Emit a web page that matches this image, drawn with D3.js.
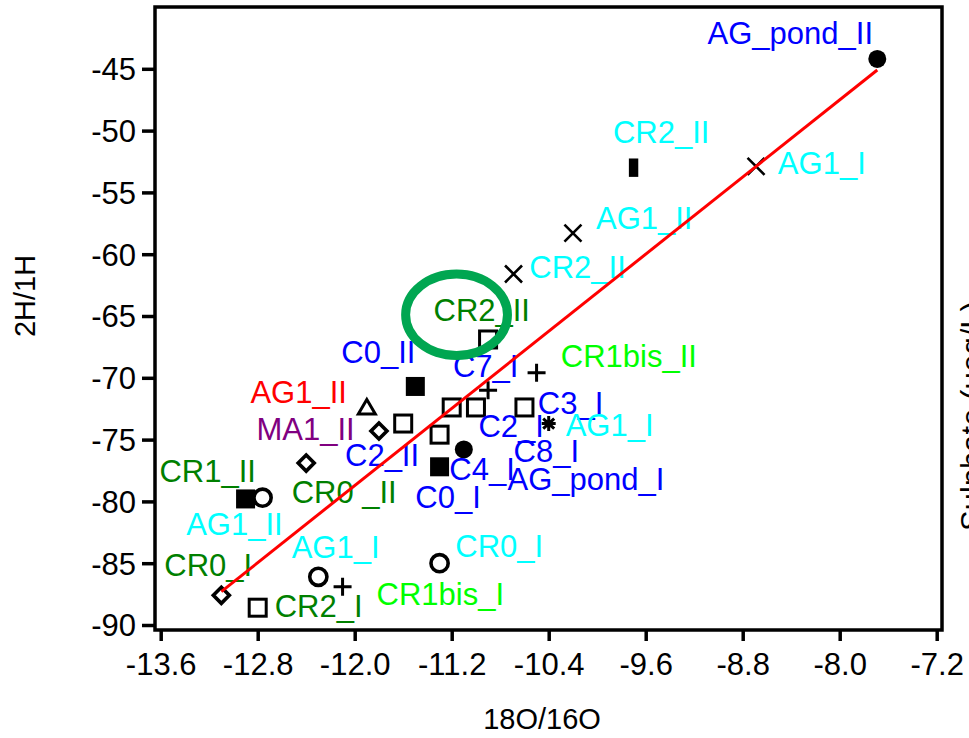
<!DOCTYPE html>
<html>
<head>
<meta charset="utf-8">
<script src="https://cdn.jsdelivr.net/npm/d3@7"></script>
<style>
  body { margin: 0; background: #fff; }
  svg { font-family: "Liberation Sans", Arial, Helvetica, sans-serif; }
</style>
</head>
<body>
<svg width="969" height="738"></svg>
<script>
// ---- data
const xTicks = [-13.6, -12.8, -12.0, -11.2, -10.4, -9.6, -8.8, -8.0, -7.2];
const yTicks = [-90, -85, -80, -75, -70, -65, -60, -55, -50, -45];

// sample points (d18O, d2H) and marker kind
const ptX = [-7.69, -9.70, -8.69, -10.20, -10.69, -10.90, -10.50, -10.90, -11.50, -11.90,
             -11.80, -11.60, -11.30, -11.20, -11.00, -10.60, -10.40, -11.10, -11.30, -12.40,
             -12.90, -12.76, -13.10, -12.80, -12.30, -12.10, -11.30];
const ptY = [-44.2, -53.0, -52.9, -58.3, -61.6, -66.9, -69.6, -71.0, -70.7, -72.4,
             -74.3, -73.7, -74.6, -72.4, -72.4, -72.4, -73.7, -75.8, -77.2, -76.9,
             -79.8, -79.7, -87.6, -88.6, -86.1, -86.9, -85.0];
const ptKind = ["circFill", "rect", "times", "times", "times", "sqOpen", "plus", "plus", "sqFill", "tri",
                "diamond", "sqOpen", "sqOpen", "sqOpen", "sqOpen", "sqOpen", "star", "circFill", "sqFill", "diamond",
                "sqFill", "circOpen", "diamond", "sqOpen", "circOpen", "plus", "circOpen"];

// sample labels, anchored in data units (left / baseline)
const labText = ["AG_pond_II", "CR2_II", "AG1_I", "AG1_II", "CR2_II", "CR2_II", "CR1bis_II", "C0_II", "C7_I",
                 "AG1_II", "C3_I", "AG1_I", "C2_I", "MA1_II", "C8_I", "C2_II", "C4_I", "CR1_II",
                 "AG_pond_I", "CR0 _II", "C0_I", "AG1_II", "AG1_I", "CR0_I", "CR0_I", "CR1bis_I", "CR2_I"];
const labX = [-9.09, -9.87, -8.51, -10.01, -10.56, -11.35, -10.30, -12.11, -11.19,
              -12.86, -10.49, -10.26, -10.98, -12.81, -10.69, -12.08, -11.22, -13.61,
              -10.74, -12.52, -11.50, -13.39, -12.52, -11.17, -13.57, -11.82, -12.66];
const labY = [-43.0, -51.0, -53.5, -58.0, -61.9, -65.4, -69.1, -68.8, -69.9,
              -72.0, -72.9, -74.7, -74.8, -75.0, -76.8, -77.1, -78.3, -78.4,
              -79.1, -80.1, -80.5, -82.7, -84.6, -84.5, -86.0, -88.4, -89.35];
// site group of each label
const labGroup = ["C", "AG", "AG", "AG", "AG", "CR", "CRb", "C", "C",
                  "AGr", "C", "AG", "C", "MA", "C", "C", "C", "CR",
                  "C", "CR", "C", "AG", "AG", "AG", "CR", "CRb", "CR"];

// fitted line end points
const fitX = [-13.1, -7.69];
const fitY = [-87.3, -45.1];

// highlighted sample (ellipse centre and half sizes, data units)
const markC = [-11.16, -64.9];
const markR = [0.42, 3.3];

// ---- styles
const groupColor = { C: "#0000ff", AG: "#00ffff", CR: "#008000", CRb: "#00ff00", AGr: "#ff0000", MA: "#800080" };

const svg = d3.select("svg");
const frameL = 155, frameR = 942, frameT = 7, frameB = 630;

const x = d3.scaleLinear().domain([-13.6, -7.2]).range([160.7, 936.7]);
const y = d3.scaleLinear().domain([-90, -40]).range([625, 7]);

// frame
svg.append("rect")
  .attr("x", frameL).attr("y", frameT)
  .attr("width", frameR - frameL).attr("height", frameB - frameT)
  .attr("fill", "none").attr("stroke", "#000").attr("stroke-width", 3.5);

// y axis
const gy = svg.append("g")
  .attr("transform", "translate(" + frameL + ",0)")
  .call(d3.axisLeft(y).tickValues(yTicks).tickSize(13).tickPadding(6)
    .tickFormat(d => String(d)));
gy.select(".domain").remove();
gy.selectAll(".tick line").attr("stroke-width", 3.5);
gy.selectAll(".tick text").attr("font-size", 31).attr("font-family", null).attr("dy", "0.35em");

// x axis
const gx = svg.append("g")
  .attr("transform", "translate(0," + frameB + ")")
  .call(d3.axisBottom(x).tickValues(xTicks).tickSize(11).tickPadding(12)
    .tickFormat(d => d.toFixed(1)));
gx.select(".domain").remove();
gx.selectAll(".tick line").attr("stroke-width", 3.5);
gx.selectAll(".tick text").attr("font-size", 31).attr("font-family", null);

// axis titles
svg.append("text")
  .attr("x", 542).attr("y", 729)
  .attr("text-anchor", "middle").attr("font-size", 29)
  .text("18O/16O");

svg.append("text")
  .attr("transform", "translate(35,296) rotate(-90)")
  .attr("text-anchor", "middle").attr("font-size", 29)
  .text("2H/1H");

svg.append("text")
  .attr("transform", "translate(983,416) rotate(-90)")
  .attr("text-anchor", "middle").attr("font-size", 31)
  .text("Sulphate (µeq/L)");

// markers
function marker(g, kind) {
  const k = "#000";
  if (kind === "circFill") g.append("circle").attr("r", 9).attr("fill", k);
  else if (kind === "circOpen") g.append("circle").attr("r", 8.6).attr("fill", "#fff").attr("stroke", k).attr("stroke-width", 3.6);
  else if (kind === "sqFill") g.append("rect").attr("x", -9.5).attr("y", -9.5).attr("width", 19).attr("height", 19).attr("fill", k);
  else if (kind === "rect") g.append("rect").attr("x", -4.7).attr("y", -9.2).attr("width", 9.4).attr("height", 18.4).attr("fill", k);
  else if (kind === "sqOpen") g.append("rect").attr("x", -8.5).attr("y", -8.5).attr("width", 17).attr("height", 17)
    .attr("fill", "none").attr("stroke", k).attr("stroke-width", 3);
  else if (kind === "diamond") g.append("path").attr("d", "M0,-8L8,0L0,8L-8,0Z")
    .attr("fill", "none").attr("stroke", k).attr("stroke-width", 3.6).attr("stroke-linejoin", "miter");
  else if (kind === "tri") g.append("path").attr("d", "M0,-8L8.5,6.5L-8.5,6.5Z")
    .attr("fill", "none").attr("stroke", k).attr("stroke-width", 3);
  else if (kind === "times") g.append("path").attr("d", "M-8.5,-8.5L8.5,8.5M-8.5,8.5L8.5,-8.5")
    .attr("stroke", k).attr("stroke-width", 2.6);
  else if (kind === "plus") g.append("path").attr("d", "M-9,0H9M0,-9V9")
    .attr("stroke", k).attr("stroke-width", 3);
  else if (kind === "star") g.append("path").attr("d", "M-7,0H7M0,-7.5V7.5M-5.5,-5L5.5,5M-5.5,5L5.5,-5")
    .attr("stroke", k).attr("stroke-width", 3);
}

const pts = ptX.map((v, i) => ({ x: v, y: ptY[i], kind: ptKind[i] }));
svg.append("g").selectAll("g")
  .data(pts)
  .enter().append("g")
  .attr("transform", d => "translate(" + x(d.x) + "," + y(d.y) + ")")
  .each(function(d) { marker(d3.select(this), d.kind); });

// labels
const labs = labText.map((t, i) => ({ t: t, x: labX[i], y: labY[i], g: labGroup[i] }));
svg.append("g").selectAll("text")
  .data(labs)
  .enter().append("text")
  .attr("x", d => x(d.x))
  .attr("y", d => y(d.y))
  .attr("font-size", 31)
  .attr("fill", d => groupColor[d.g])
  .text(d => d.t);

// fit line
svg.append("path")
  .datum(fitX.map((v, i) => [v, fitY[i]]))
  .attr("d", d3.line().x(d => x(d[0])).y(d => y(d[1])))
  .attr("stroke", "#ff0000").attr("stroke-width", 3).attr("fill", "none");

// highlight ellipse
svg.append("ellipse")
  .attr("cx", x(markC[0])).attr("cy", y(markC[1]))
  .attr("rx", x(markC[0] + markR[0]) - x(markC[0]))
  .attr("ry", y(markC[1] - markR[1]) - y(markC[1]))
  .attr("fill", "none").attr("stroke", "#00a651").attr("stroke-width", 9);
</script>
</body>
</html>
